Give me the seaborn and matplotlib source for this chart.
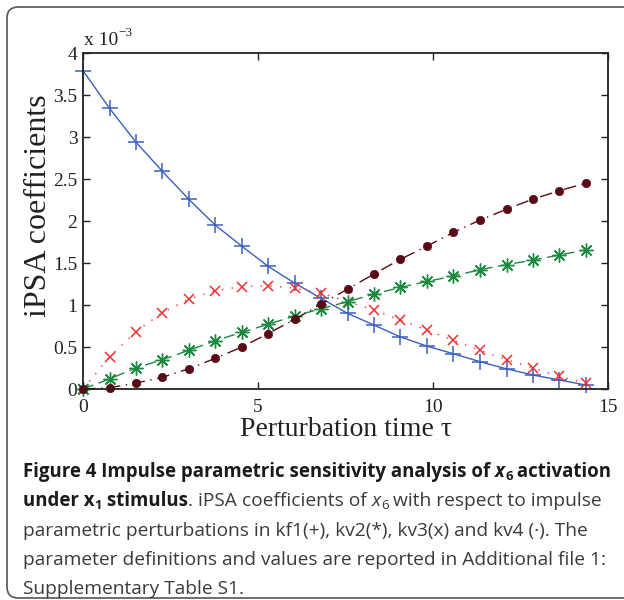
import matplotlib
matplotlib.use("Agg")
import numpy as np
import pandas as pd
import matplotlib.pyplot as plt
import seaborn as sns
from matplotlib.patches import FancyBboxPatch

# perturbation times
tau = [0, 0.76, 1.51, 2.27, 3.02, 3.78, 4.54, 5.29, 6.05, 6.80,
       7.56, 8.32, 9.07, 9.83, 10.58, 11.34, 12.10, 12.85, 13.61, 14.36]

# iPSA coefficients, units of 1e-3
kf1 = [3.79, 3.34, 2.94, 2.59, 2.26, 1.95, 1.70, 1.46, 1.26, 1.08,
       0.90, 0.76, 0.62, 0.51, 0.42, 0.325, 0.24, 0.167, 0.107, 0.048]
kv2 = [0.0, 0.12, 0.25, 0.35, 0.46, 0.575, 0.675, 0.77, 0.87, 0.955,
       1.04, 1.13, 1.21, 1.28, 1.345, 1.42, 1.48, 1.535, 1.595, 1.655]
kv3 = [0.0, 0.385, 0.68, 0.91, 1.07, 1.17, 1.22, 1.23, 1.20, 1.14,
       1.04, 0.94, 0.82, 0.70, 0.58, 0.46, 0.35, 0.25, 0.15, 0.07]
kv4 = [0.0, 0.015, 0.07, 0.14, 0.24, 0.365, 0.50, 0.66, 0.83, 1.01,
       1.19, 1.37, 1.545, 1.70, 1.865, 2.01, 2.14, 2.26, 2.36, 2.45]

W, H = 624, 600

sns.set_style("ticks")
plt.rcParams['font.family'] = ['Liberation Serif', 'DejaVu Serif']

df = pd.DataFrame({'tau': tau, 'kf1': kf1, 'kv2': kv2, 'kv3': kv3, 'kv4': kv4})
long_df = df.melt(id_vars='tau', var_name='param', value_name='ipsa')

fig = plt.figure(figsize=(W / 100, H / 100), dpi=100)
ax = fig.add_axes([83 / W, 1 - 389 / H, (608 - 83) / W, (389 - 53) / H])

styles = {
    'kf1': dict(color='#3b5fbf', marker='+', linestyle='-', markersize=12, markeredgewidth=1.1),
    'kv3': dict(color='#f03030', marker='x', linestyle=(0, (1, 6)), markersize=7, markeredgewidth=1.1),
    'kv2': dict(color='#1b8a3f', marker=(8, 2, 0), linestyle=(0, (8, 4)), markersize=10, markeredgewidth=1.0),
    'kv4': dict(color='#5a0a14', marker='o', linestyle=(0, (9, 4, 1, 4)), markersize=6, markeredgewidth=0.5),
}
for name, st in styles.items():
    sns.lineplot(data=long_df[long_df['param'] == name], x='tau', y='ipsa', ax=ax,
                 color=st['color'], marker=st['marker'], linestyle=st['linestyle'],
                 markersize=st['markersize'], markeredgewidth=st['markeredgewidth'],
                 markeredgecolor=st['color'], markerfacecolor=st['color'],
                 linewidth=1.0, legend=False, clip_on=False)

ax.set_xlim(0, 15)
ax.set_ylim(0, 4)
ax.set_xticks([0, 5, 10, 15])
ax.set_yticks(np.arange(0, 4.01, 0.5))
ax.set_yticklabels(['0', '0.5', '1', '1.5', '2', '2.5', '3', '3.5', '4'])
ax.tick_params(direction='in', top=True, right=True, length=5, width=1,
               labelsize=14, colors='#222222')
ax.tick_params(axis='x', pad=7)
ax.tick_params(axis='y', pad=4)
for sp in ax.spines.values():
    sp.set_visible(True)
    sp.set_linewidth(1.3)
    sp.set_color('#222222')

ax.set_xlabel('Perturbation time τ', fontsize=20, color='#222222')
ax.set_ylabel('iPSA coefficients', fontsize=23, color='#222222')
ax.xaxis.set_label_coords(0.5, -0.082)
ax.yaxis.set_label_coords(-0.058, 0.545)

fig.text(84 / W, 1 - 45 / H, 'x 10', fontsize=14, color='#222222', va='baseline')
fig.text(118 / W, 1 - 36 / H, '−3', fontsize=9.5, color='#222222', va='baseline')

# caption, drawn run by run
renderer = fig.canvas.get_renderer()


def text_width(s, kw):
    t1 = fig.text(0, 0, s + '|', **kw)
    t2 = fig.text(0, 0, '|', **kw)
    w = t1.get_window_extent(renderer).width - t2.get_window_extent(renderer).width
    t1.remove()
    t2.remove()
    return w


def put_runs(x_px, y_px, runs):
    for s, kw, dy in runs:
        fig.text(x_px / W, 1 - (y_px + dy) / H, s, va='baseline', ha='left', **kw)
        x_px += text_width(s, kw)


cap_font = ['Open Sans', 'DejaVu Sans']
fb, fn = 13.4, 13.8
bold = dict(family=cap_font, fontsize=fb, fontweight='bold', color='#1a1a1a')
bold_it = dict(family=cap_font, fontsize=fb, fontweight='bold', fontstyle='italic', color='#1a1a1a')
bold_sub = dict(family=cap_font, fontsize=fb * 0.7, fontweight='bold', color='#1a1a1a')
norm = dict(family=cap_font, fontsize=fn, color='#3a3a3a')
norm_it = dict(family=cap_font, fontsize=fn, fontstyle='italic', color='#3a3a3a')
norm_sub = dict(family=cap_font, fontsize=fn * 0.7, color='#3a3a3a')

x0 = 23
put_runs(x0, 477, [('Figure 4 Impulse parametric sensitivity analysis of ', bold, 0),
                   ('x', bold_it, 0), ('6', bold_sub, 3), (' activation', bold, 0)])
put_runs(x0, 506, [('under x', bold, 0), ('1', bold_sub, 3), (' stimulus', bold, 0),
                   ('. iPSA coefficients of ', norm, 0), ('x', norm_it, 0), ('6', norm_sub, 3),
                   (' with respect to impulse', norm, 0)])
put_runs(x0, 536, [('parametric perturbations in kf1(+), kv2(*), kv3(x) and kv4 (·). The', norm, 0)])
put_runs(x0, 565, [('parameter definitions and values are reported in Additional file 1:', norm, 0)])
put_runs(x0, 594, [('Supplementary Table S1.', norm, 0)])

box = FancyBboxPatch((7 / W, 1 - 598 / H), 640 / W, 591 / H,
                     boxstyle='round,pad=0,rounding_size=0.018',
                     transform=fig.transFigure, fill=False, linewidth=1.2,
                     edgecolor='#555555', clip_on=False)
fig.patches.append(box)

fig.savefig('out.png', dpi=100)
